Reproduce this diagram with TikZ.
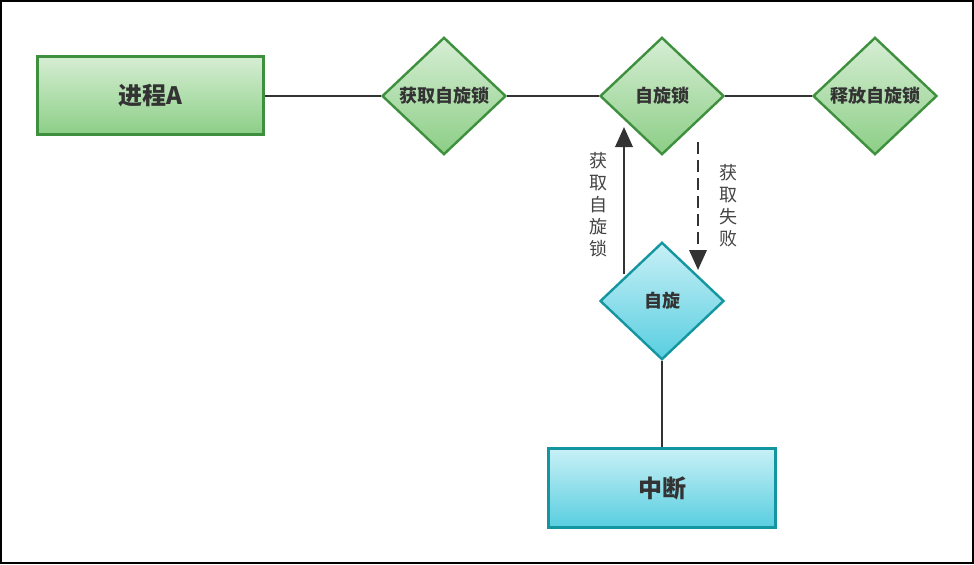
\documentclass[tikz,border=0pt]{standalone}
\usepackage{fontspec}
\newfontfamily\cjk{Noto Sans CJK SC}
\usetikzlibrary{shapes.geometric,arrows.meta}
\definecolor{gborder}{RGB}{62,144,62}
\definecolor{gtop}{RGB}{214,238,212}
\definecolor{gbot}{RGB}{140,206,134}
\definecolor{cborder}{RGB}{20,150,160}
\definecolor{ctop}{RGB}{200,240,246}
\definecolor{cbot}{RGB}{88,206,224}
\definecolor{ink}{RGB}{51,51,51}
\definecolor{lbl}{RGB}{68,68,68}
\tikzset{
  gbox/.style={rectangle, draw=gborder, line width=2.2pt, top color=gtop, bottom color=gbot,
    minimum width=170pt, minimum height=59pt, inner sep=0pt,
    font=\cjk\bfseries\fontsize{18}{21}\selectfont, text=ink},
  cbox/.style={gbox, draw=cborder, top color=ctop, bottom color=cbot},
  gdia/.style={diamond, draw=gborder, line width=1.8pt, top color=gtop, bottom color=gbot,
    minimum width=93pt, minimum height=88pt, inner sep=0pt,
    font=\cjk\bfseries\fontsize{13.5}{16}\selectfont, text=ink},
  cdia/.style={gdia, draw=cborder, top color=ctop, bottom color=cbot},
  link/.style={draw=ink, line width=1.9pt},
  arr/.style={link, -{Triangle[length=15pt,width=13pt]}},
  vlabel/.style={font=\cjk\fontsize{13.5}{16.5}\selectfont, text=lbl, align=center, inner sep=0pt}
}
\begin{document}
\begin{tikzpicture}[x=0.75pt,y=-0.75pt]
\useasboundingbox (0,0) rectangle (974,564);
\fill[white] (0,0) rectangle (974,564);
\draw[line width=1.6pt] (1,1) rectangle (973,563);

\node[gbox] (procA) at (150.5,95.5) {进程A};
\node[gdia] (acq) at (444,96) {获取自旋锁};
\node[gdia] (lock) at (662,96) {自旋锁};
\node[gdia] (rel) at (875,96) {释放自旋锁};
\node[cdia] (spin) at (662,301) {自旋};
\node[cbox] (irq) at (662,488) {中断};

\draw[link] (procA.east |- acq.west) -- (acq.west);
\draw[link] (acq.east) -- (lock.west);
\draw[link] (lock.east) -- (rel.west);
\draw[link] (spin.south) -- (irq.north);

\coordinate (upS) at (624,274);
\coordinate (upE) at (624,127);
\coordinate (dnS) at (698,142);
\coordinate (dnE) at (698,270);
\draw[arr] (upS) -- (upE);
\draw[arr, dash pattern=on 9pt off 4.5pt] (dnS) -- (dnE);

\node[vlabel] (lblA) at (598,205) {获\\取\\自\\旋\\锁};
\node[vlabel] (lblB) at (728,206) {获\\取\\失\\败};
\end{tikzpicture}
\end{document}
